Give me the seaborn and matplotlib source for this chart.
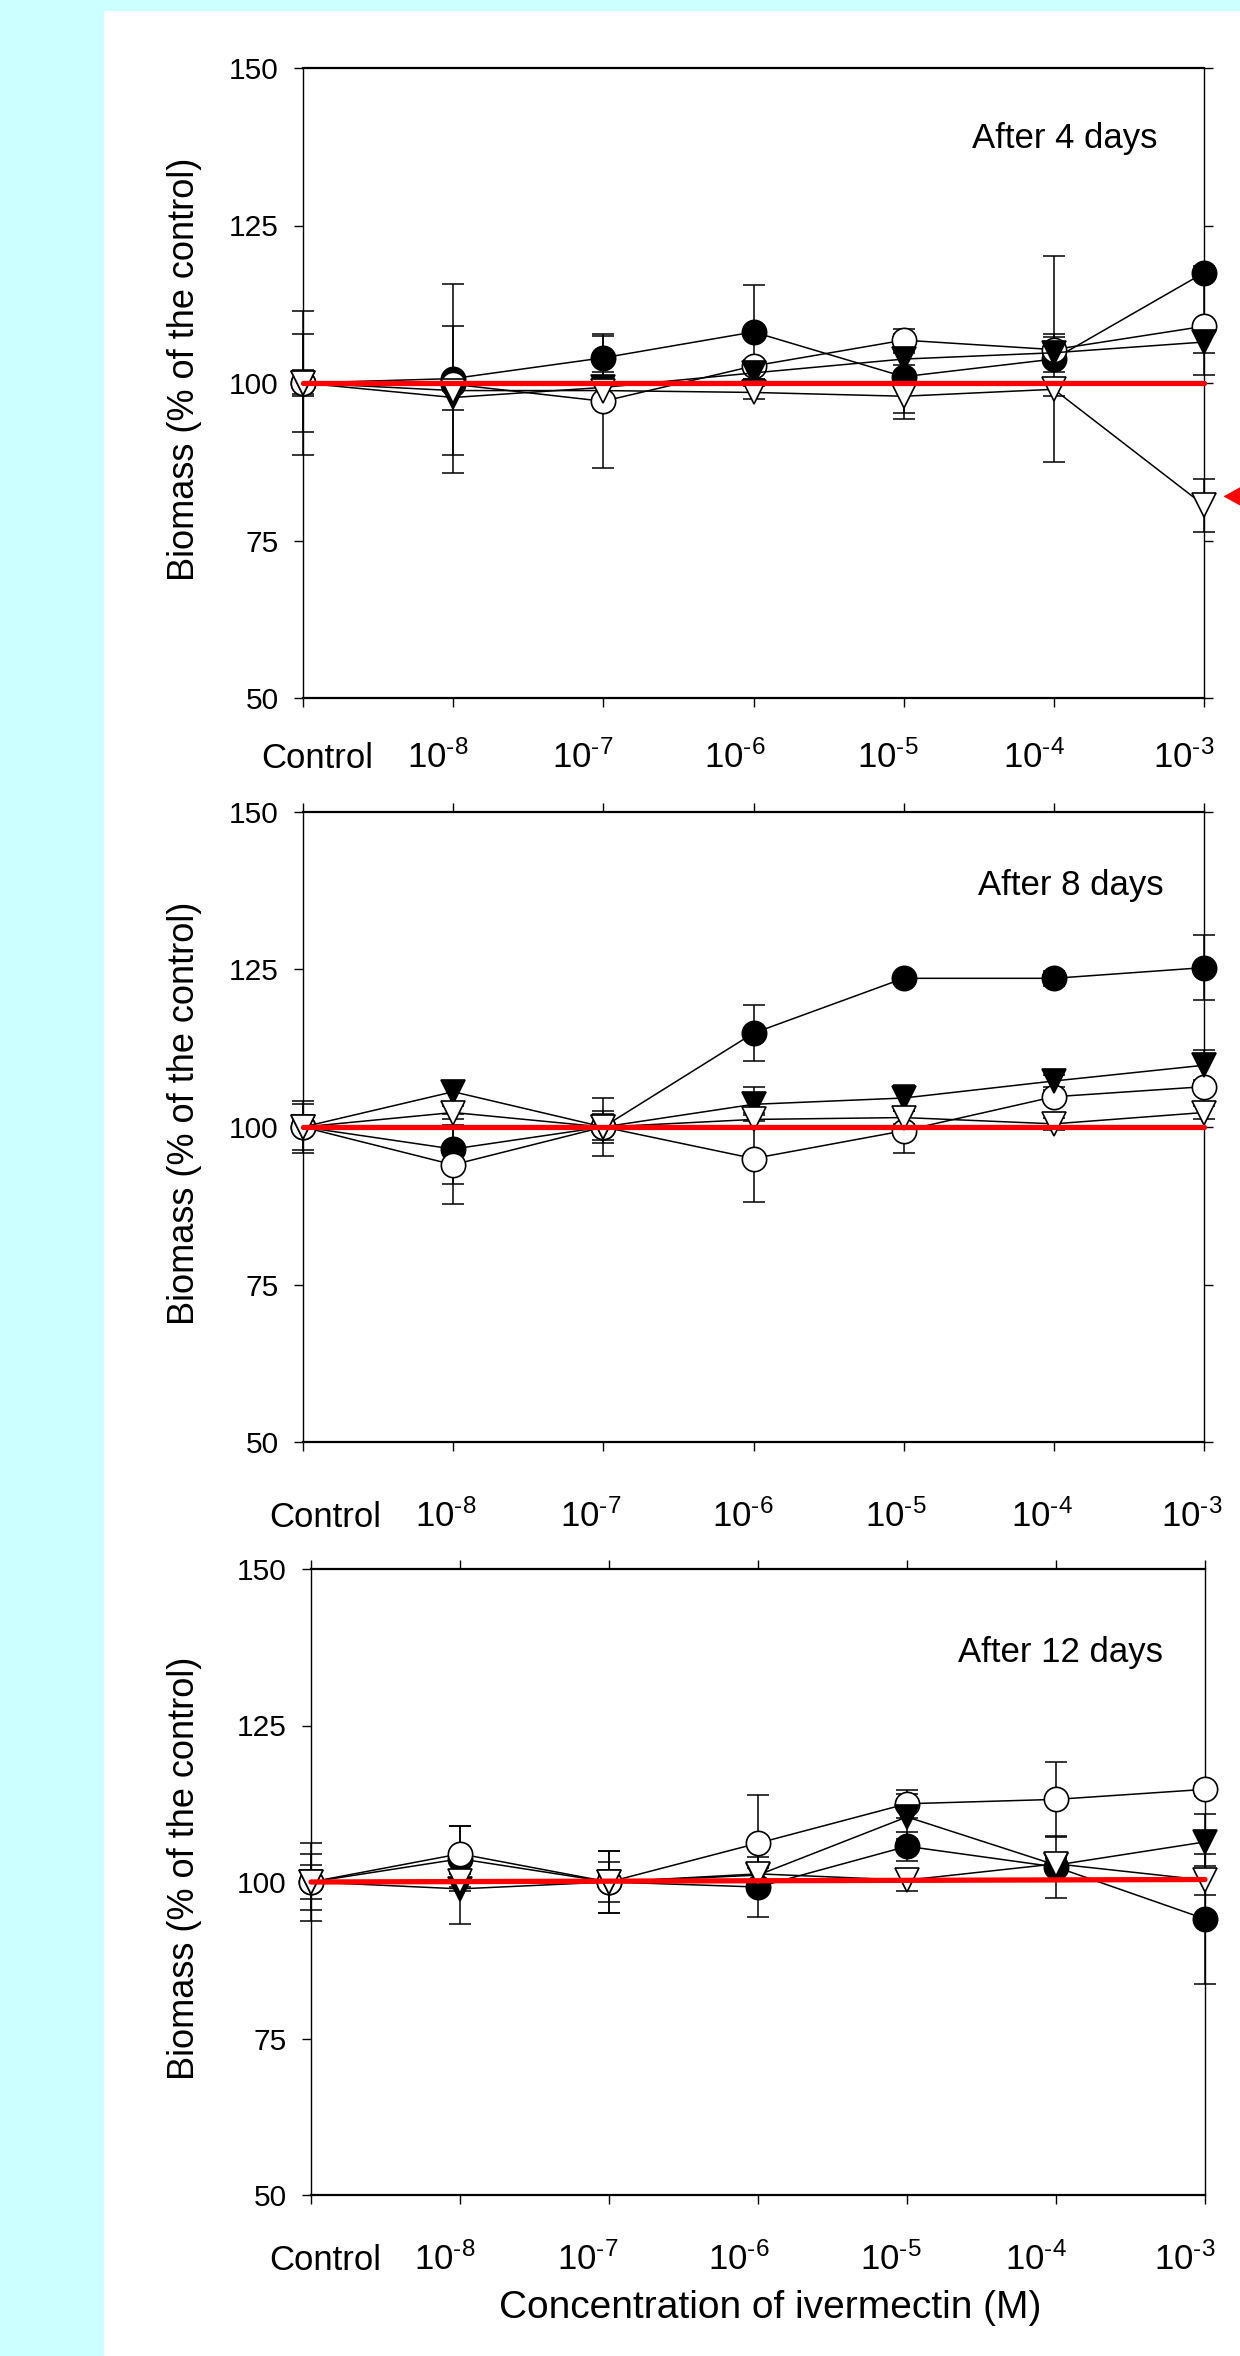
#!/usr/bin/env python3
"""
Biomass vs ivermectin concentration after 4, 8 and 12 days (three stacked panels).
"""
import numpy as np
import matplotlib
matplotlib.use('Agg')
import matplotlib.pyplot as plt
import matplotlib.transforms as mtransforms
from matplotlib.patches import Rectangle
import seaborn as sns

# x axis
conc_pos = np.arange(7)
conc_labels = ['Control', r'10$^{\text{-8}}$', r'10$^{\text{-7}}$', r'10$^{\text{-6}}$',
               r'10$^{\text{-5}}$', r'10$^{\text{-4}}$', r'10$^{\text{-3}}$']
y_ticks = [50, 75, 100, 125, 150]

panel_titles = ['After 4 days', 'After 8 days', 'After 12 days']

# After 4 days
d4_fc_mean = [100, 100.7, 104.0, 108.1, 101.0, 103.8, 117.5]
d4_fc_err = [11.4, 15.0, 3.4, 7.5, 6.7, 16.3, 1.0]
d4_oc_mean = [100, 99.8, 97.1, 102.7, 106.8, 105.3, 109.0]
d4_oc_err = [7.7, 1.0, 10.6, 1.0, 1.7, 2.0, 7.8]
d4_ft_mean = [100, 97.7, 99.3, 101.6, 103.8, 104.8, 106.5]
d4_ft_err = [2.0, 2.0, 2.5, 1.0, 1.0, 3.0, 1.8]
d4_ot_mean = [100, 98.8, 98.8, 98.5, 97.9, 99.0, 80.6]
d4_ot_err = [1.7, 10.3, 1.0, 1.0, 2.6, 1.0, 4.2]

# After 8 days
d8_fc_mean = [100, 96.5, 100, 114.9, 123.6, 123.6, 125.3]
d8_fc_err = [4.2, 5.5, 2.6, 4.4, 0.5, 1.2, 5.2]
d8_oc_mean = [100, 94.0, 100, 95.0, 99.4, 104.8, 106.4]
d8_oc_err = [3.6, 6.3, 4.6, 6.9, 3.6, 1.0, 1.0]
d8_ft_mean = [100, 105.6, 100, 103.6, 104.6, 107.3, 109.8]
d8_ft_err = [1.0, 1.7, 2.0, 2.7, 2.0, 1.0, 2.5]
d8_ot_mean = [100, 102.3, 100, 101.2, 101.5, 100.5, 102.3]
d8_ot_err = [1.0, 1.0, 1.0, 1.0, 1.0, 1.0, 1.0]

# After 12 days
d12_fc_mean = [100, 103.7, 100, 99.2, 105.7, 102.4, 94.1]
d12_fc_err = [4.5, 5.2, 3.2, 4.8, 2.3, 5.0, 10.4]
d12_oc_mean = [100, 104.5, 100, 106.2, 112.5, 113.2, 114.8]
d12_oc_err = [6.2, 4.5, 5.0, 7.7, 2.2, 6.0, 1.0]
d12_ft_mean = [100, 98.9, 100, 101.1, 110.4, 102.7, 106.4]
d12_ft_err = [2.7, 5.6, 4.9, 2.0, 3.6, 1.0, 4.5]
d12_ot_mean = [100, 100.2, 100, 101.3, 100.3, 102.9, 100.3]
d12_ot_err = [1.0, 1.0, 1.0, 1.0, 1.8, 1.0, 2.3]

# red control reference line (Control -> 10^-3)
ref_x = [0, 6]
ref_4d = [100, 100]
ref_8d = [100, 100]
ref_12d = [100, 100.4]

panels = [
    [(d4_fc_mean, d4_fc_err), (d4_oc_mean, d4_oc_err),
     (d4_ft_mean, d4_ft_err), (d4_ot_mean, d4_ot_err)],
    [(d8_fc_mean, d8_fc_err), (d8_oc_mean, d8_oc_err),
     (d8_ft_mean, d8_ft_err), (d8_ot_mean, d8_ot_err)],
    [(d12_fc_mean, d12_fc_err), (d12_oc_mean, d12_oc_err),
     (d12_ft_mean, d12_ft_err), (d12_ot_mean, d12_ot_err)],
]
ref_lines = [ref_4d, ref_8d, ref_12d]

# marker / face colour for filled circle, open circle, filled and open triangle
series_style = [('o', 'black'), ('o', 'white'), ('v', 'black'), ('v', 'white')]

sns.set_theme(style='ticks', rc={
    'axes.edgecolor': 'black', 'xtick.color': 'black', 'ytick.color': 'black',
    'text.color': 'black', 'axes.labelcolor': 'black',
})
plt.rcParams['font.family'] = ['Liberation Sans', 'DejaVu Sans']
plt.rcParams['mathtext.fontset'] = 'custom'
plt.rcParams['mathtext.rm'] = 'Liberation Sans'
plt.rcParams['mathtext.it'] = 'Liberation Sans:italic'
plt.rcParams['mathtext.bf'] = 'Liberation Sans:bold'

W, H = 1240, 2356
fig = plt.figure(figsize=(W / 100, H / 100), dpi=100, facecolor='#CCFFFF')
fig.add_artist(Rectangle((104 / W, 0), 1 - 104 / W, 1 - 11 / H,
                         transform=fig.transFigure, facecolor='white',
                         edgecolor='none', zorder=-10))

# axes boxes in pixels: left, top, right, bottom
boxes = [(303, 68, 1204, 698), (303, 812, 1204, 1442), (311, 1569, 1205, 2195)]
xlabel_pad = [44, 54.5, 47.5]
xlabel_shift = [0, 8, 0]
xlabel_dx = [14, -15, -21, -19, -16, -20, -20]
title_pos = [(5.07, 137.3), (5.11, 136.8), (5.03, 135.1)]
ylabel_y = [369, 1113, 1868]

for i, (l, t, r, b) in enumerate(boxes):
    ax = fig.add_axes([l / W, 1 - b / H, (r - l) / W, (b - t) / H])
    ax.set_facecolor('white')

    for (mean, err), (mk, fc) in zip(panels[i], series_style):
        eb = ax.errorbar(conc_pos, mean, yerr=err, fmt='none', ecolor='black',
                         elinewidth=1.1, capsize=8, capthick=1.1, zorder=2)
        for art in list(eb.lines[1]) + list(eb.lines[2]):
            art.set_clip_on(False)
        sns.lineplot(x=conc_pos, y=mean, ax=ax, color='black', lw=1.1,
                     marker=mk, markersize=17.5, markerfacecolor=fc,
                     markeredgecolor='black', markeredgewidth=1.2,
                     clip_on=False, zorder=3)

    sns.lineplot(x=ref_x, y=ref_lines[i], ax=ax, color='red', lw=3.8,
                 clip_on=False, zorder=5)

    ax.set_xlim(0, 6)
    ax.set_ylim(50, 150)
    ax.set_xlabel('')
    ax.set_ylabel('')
    ax.set_xticks(conc_pos)
    ax.set_xticklabels(conc_labels)
    ax.set_yticks(y_ticks)
    ax.tick_params(axis='both', direction='out', length=6.5, width=1.0)
    ax.tick_params(axis='x', labelsize=25, pad=xlabel_pad[i], top=(i > 0))
    ax.tick_params(axis='y', labelsize=21.5, pad=11, right=(i < 2))
    for side in ['left', 'right']:
        ax.spines[side].set_linewidth(1.0)
    for side in ['top', 'bottom']:
        ax.spines[side].set_linewidth(1.6)

    for lbl, dx in zip(ax.get_xticklabels(), xlabel_dx):
        lbl.set_va('baseline')
        lbl.set_transform(lbl.get_transform() + mtransforms.ScaledTranslation(
            (dx + xlabel_shift[i]) / 100, 0, fig.dpi_scale_trans))

    ax.text(title_pos[i][0], title_pos[i][1], panel_titles[i],
            ha='center', va='baseline', fontsize=25)

    fig.text(184 / W, 1 - ylabel_y[i] / H, 'Biomass (% of the control)',
             rotation=90, ha='center', va='center', fontsize=26)

    if i == 0:
        # red arrow pointing at the 10^-3 open triangle (cut by the image edge)
        ax.annotate('', xy=(6.13, 82), xytext=(6.9, 82),
                    arrowprops=dict(arrowstyle='-|>,head_length=0.9,head_width=0.5',
                                    color='red', lw=1, mutation_scale=20,
                                    shrinkA=0, shrinkB=0),
                    annotation_clip=False)

fig.text(770 / W, 1 - 2318 / H, 'Concentration of ivermectin (M)',
         ha='center', va='baseline', fontsize=28)

fig.savefig('out.png', dpi=100, facecolor=fig.get_facecolor())
